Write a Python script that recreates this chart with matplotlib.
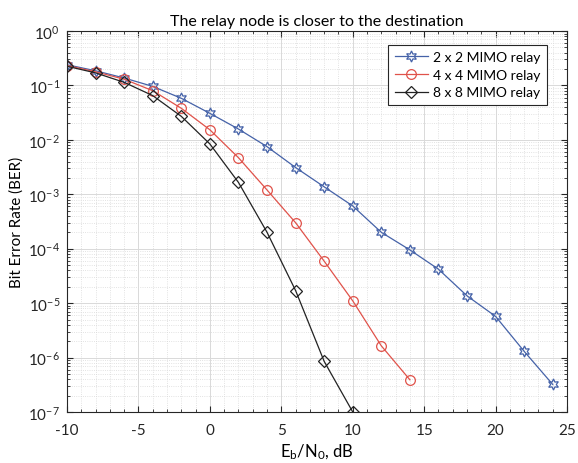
import matplotlib
matplotlib.use("Agg")
import matplotlib.pyplot as plt
from matplotlib.ticker import LogLocator, MultipleLocator, NullFormatter, FixedLocator

plt.rcParams['font.family'] = ['Lato', 'DejaVu Sans']
plt.rcParams['mathtext.default'] = 'regular'
plt.rcParams['axes.unicode_minus'] = False

snr_2x2 = [-10, -8, -6, -4, -2, 0, 2, 4, 6, 8, 10, 12, 14, 16, 18, 20, 22, 24]
ber_2x2 = [0.24, 0.186, 0.137, 0.096, 0.058, 0.0307, 0.0158, 0.0075, 0.0031, 0.00137,
           0.00061, 0.0002, 9.5e-5, 4.2e-5, 1.36e-5, 5.7e-6, 1.3e-6, 3.2e-7]
snr_4x4 = [-10, -8, -6, -4, -2, 0, 2, 4, 6, 8, 10, 12, 14]
ber_4x4 = [0.232, 0.178, 0.13, 0.08, 0.038, 0.0153, 0.0047, 0.0012, 0.0003, 5.9e-5,
           1.1e-5, 1.64e-6, 3.9e-7]
snr_8x8 = [-10, -8, -6, -4, -2, 0, 2, 4, 6, 8, 10]
ber_8x8 = [0.225, 0.17, 0.114, 0.065, 0.027, 0.0084, 0.00165, 0.0002, 1.7e-5, 8.5e-7, 1e-7]

labels = ['2 x 2 MIMO relay', '4 x 4 MIMO relay', '8 x 8 MIMO relay']
x_ticks = [-10, -5, 0, 5, 10, 15, 20, 25]
y_ticks = [1e-7, 1e-6, 1e-5, 1e-4, 1e-3, 1e-2, 1e-1, 1e0]
y_tick_labels = [r'$10^{-7}$', r'$10^{-6}$', r'$10^{-5}$', r'$10^{-4}$',
                 r'$10^{-3}$', r'$10^{-2}$', r'$10^{-1}$', r'$10^{0}$']

fig = plt.figure(figsize=(5.78, 4.64), dpi=100)
ax = fig.add_axes([0.116, 0.110, 0.865, 0.821])

ax.semilogy(snr_2x2, ber_2x2, color='#4562a8', lw=0.9, marker=(6, 1, 0), ms=8,
            mfc='none', mec='#4562a8', mew=0.9, label=labels[0])
ax.semilogy(snr_4x4, ber_4x4, color='#e0524a', lw=0.9, marker='o', ms=7,
            mfc='none', mec='#e0524a', mew=0.9, label=labels[1])
ax.semilogy(snr_8x8, ber_8x8, color='#222222', lw=0.9, marker='D', ms=6,
            mfc='none', mec='#222222', mew=0.9, label=labels[2])

ax.set_xlim(-10, 25)
ax.set_ylim(1e-7, 1)
ax.set_xticks(x_ticks)
ax.set_xticklabels([str(v) for v in x_ticks])
ax.xaxis.set_minor_locator(MultipleLocator(1))
ax.set_yticks(y_ticks)
ax.set_yticklabels(y_tick_labels)
ax.yaxis.set_minor_locator(LogLocator(base=10, subs=range(2, 10), numticks=20))
ax.yaxis.set_minor_formatter(NullFormatter())

ax.grid(which='major', color='#d9d9d9', lw=0.7, ls='-')
ax.grid(which='minor', color='#d9d9d9', lw=0.6, ls=':')
ax.set_axisbelow(True)
ax.tick_params(which='both', direction='in', top=True, right=True, colors='#262626',
               labelsize=11)
ax.tick_params(axis='x', which='major', pad=8)
ax.tick_params(axis='y', which='major', pad=5)
ax.tick_params(which='major', length=4)
ax.tick_params(which='minor', length=2)
for s in ax.spines.values():
    s.set_color('#262626')
    s.set_linewidth(0.8)

ax.set_title('The relay node is closer to the destination', fontsize=11.5, pad=4)
ax.set_xlabel(r'E$_{b}$/N$_{0}$, dB', fontsize=12, labelpad=3)
ax.set_ylabel('Bit Error Rate (BER)', fontsize=11, labelpad=3)

leg = ax.legend(loc='upper right', bbox_to_anchor=(0.96, 0.963), borderaxespad=0,
                fontsize=10, fancybox=False, edgecolor='#262626',
                framealpha=1, handlelength=2.4, handletextpad=0.4, labelspacing=0.4,
                borderpad=0.45)
leg.get_frame().set_linewidth(0.8)

fig.savefig('out.png', dpi=100)
